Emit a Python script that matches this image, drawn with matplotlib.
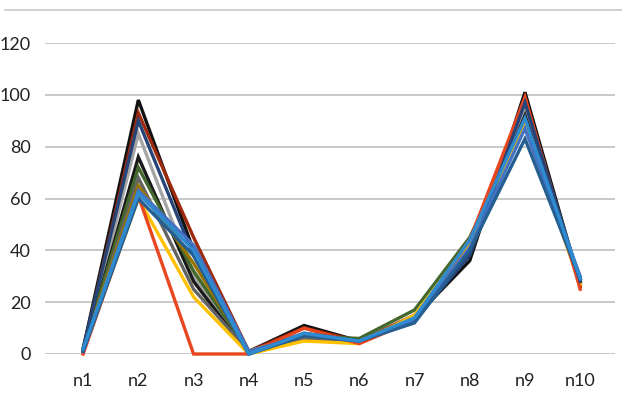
import matplotlib.pyplot as plt
from matplotlib.lines import Line2D

# kategoriler
categories = ['n1', 'n2', 'n3', 'n4', 'n5', 'n6', 'n7', 'n8', 'n9', 'n10']
y_ticks = [0, 20, 40, 60, 80, 100, 120]

# seriler
s_black1 = [2, 98, 40, 1, 11, 5, 14, 36, 101, 27]
s_darkred = [1, 93, 45, 1, 10, 5, 15, 40, 99, 26]
s_gray = [1, 85, 30, 1, 8, 5, 14, 42, 94, 29]
s_black2 = [1, 76, 28, 0, 7, 5, 13, 40, 92, 28]
s_green = [2, 72, 32, 1, 7, 6, 17, 45, 90, 29]
s_darkgray = [1, 68, 25, 1, 6, 5, 14, 43, 89, 28]
s_olive = [2, 65, 35, 1, 7, 5, 14, 42, 88, 27]
s_yellow = [1, 60, 22, 0, 5, 4, 15, 43, 88, 27]
s_red = [0, 61, 0, 0, 10, 4, 13, 44, 99, 25]
s_navy = [2, 90, 38, 0, 8, 5, 13, 38, 97, 28]
s_blue = [1, 63, 42, 1, 7, 5, 13, 41, 87, 30]
s_steel = [1, 60, 38, 0, 7, 5, 12, 40, 83, 29]
s_light = [2, 62, 40, 0, 8, 5, 14, 44, 91, 29]

series = [
    (s_black1, '#111111'),
    (s_darkred, '#9E2A0E'),
    (s_gray, '#A5A5A5'),
    (s_black2, '#1A1A1A'),
    (s_green, '#43682B'),
    (s_darkgray, '#636363'),
    (s_olive, '#997300'),
    (s_yellow, '#FFC000'),
    (s_red, '#E8461E'),
    (s_navy, '#264478'),
    (s_blue, '#4472C4'),
    (s_steel, '#255E91'),
    (s_light, '#2E8BD0'),
]

plt.rcParams['font.family'] = ['Lato', 'DejaVu Sans']

fig = plt.figure(figsize=(6.22, 4.01), dpi=100)
ax = fig.add_axes([45 / 622, 47 / 401, 570 / 622, 311 / 401])

x = list(range(len(categories)))
for vals, col in series:
    ax.plot(x, vals, color=col, linewidth=2.4, clip_on=False, solid_joinstyle='miter')

ax.set_ylim(0, 120)
ax.set_xlim(-0.69, 9.63)
ax.set_yticks(y_ticks)
ax.set_xticks(x)
ax.set_xticklabels(categories)
ax.grid(axis='y', color='#BFBFBF', linewidth=1.2)
ax.set_axisbelow(True)
for sp in ax.spines.values():
    sp.set_visible(False)
ax.tick_params(length=0, labelsize=13, colors='#222222')
ax.tick_params(axis='y', pad=10)
ax.tick_params(axis='x', pad=14)

# ustteki ince cizgi
fig.add_artist(Line2D([5 / 622, 1], [1 - 10 / 401, 1 - 10 / 401], color='#C8C8C8', linewidth=1.2))

plt.savefig('out.png', dpi=100)
